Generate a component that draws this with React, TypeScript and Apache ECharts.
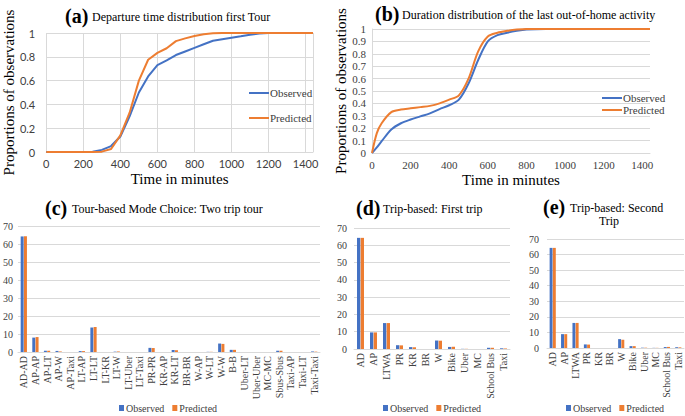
import React, { useEffect, useRef } from 'react';
import * as echarts from 'echarts';

const SERIF = 'Liberation Serif';
const SANS = 'Lato';
const BLUE = '#4472C4';
const ORANGE = '#ED7D31';
const GRID = '#d9d9d9';
const TXT = '#404040';

// (a) Departure time distribution first Tour
const aTimes = [0, 100, 200, 250, 300, 350, 400, 450, 500, 550, 600, 650, 700, 750, 800, 850, 900, 950, 1000, 1050, 1100, 1150, 1200, 1300, 1440];
const aObserved = [0, 0, 0, 0.003, 0.018, 0.05, 0.13, 0.3, 0.5, 0.635, 0.73, 0.77, 0.815, 0.845, 0.875, 0.905, 0.935, 0.948, 0.96, 0.972, 0.985, 0.995, 1, 1, 1];
const aPredicted = [0, 0, 0, 0, 0.003, 0.025, 0.14, 0.33, 0.6, 0.775, 0.833, 0.872, 0.932, 0.955, 0.975, 0.99, 0.997, 1, 1, 1, 1, 1, 1, 1, 1];

// (b) Duration distribution of the last out-of-home activity
const bTimes = [0, 25, 50, 100, 150, 200, 250, 300, 350, 400, 450, 500, 550, 600, 650, 700, 750, 800, 900, 1000, 1200, 1440];
const bObserved = [0, 0.045, 0.095, 0.19, 0.24, 0.27, 0.295, 0.32, 0.354, 0.385, 0.43, 0.56, 0.75, 0.9, 0.95, 0.97, 0.985, 0.995, 1, 1, 1, 1];
const bPredicted = [0, 0.16, 0.24, 0.33, 0.35, 0.36, 0.37, 0.38, 0.4, 0.43, 0.465, 0.6, 0.82, 0.94, 0.97, 0.985, 0.995, 1, 1, 1, 1, 1];

// (c) Tour-based Mode Choice: Two trip tour
const cCategories = ['AD-AD', 'AP-AP', 'AP-LT', 'AP-W', 'AP-Taxi', 'LT-AP', 'LT-LT', 'LT-KR', 'LT-W', 'LT-Uber', 'LT-Taxi', 'PR-PR', 'KR-AP', 'KR-LT', 'BR-BR', 'W-AP', 'W-LT', 'W-W', 'B-B', 'Uber-LT', 'Uber-Uber', 'MC-MC', 'Sbus-Sbus', 'Taxi-AP', 'Taxi-LT', 'Taxi-Taxi'];
const cObserved = [64.2, 8.0, 0.7, 0.6, 0, 0.5, 13.6, 0, 0.2, 0, 0, 2.3, 0, 1.1, 0, 0, 0.1, 4.7, 1.2, 0, 0, 0, 0.7, 0, 0, 0.3];
const cPredicted = [64.3, 8.3, 0.7, 0.3, 0, 0.5, 13.9, 0, 0.3, 0, 0, 2.2, 0, 1.0, 0, 0, 0.1, 4.5, 1.2, 0, 0, 0, 0.7, 0, 0, 0.2];

// (d) Trip-based: First trip
const dCategories = ['AD', 'AP', 'LTWA', 'PR', 'KR', 'BR', 'W', 'Bike', 'Uber', 'MC', 'School Bus', 'Taxi'];
const dObserved = [64.3, 9.6, 15.0, 2.2, 1.1, 0, 4.9, 1.2, 0.1, 0, 0.7, 0.4];
const dPredicted = [64.3, 9.6, 15.0, 2.1, 1.0, 0, 4.8, 1.3, 0.1, 0, 0.7, 0.3];

// (e) Trip-based: Second Trip
const eCategories = ['AD', 'AP', 'LTWA', 'PR', 'KR', 'BR', 'W', 'Bike', 'Uber', 'MC', 'School Bus', 'Taxi'];
const eObserved = [64.3, 8.9, 16.1, 2.3, 0, 0, 5.7, 1.2, 0.2, 0.1, 0.6, 0.5];
const ePredicted = [64.3, 8.9, 16.1, 2.2, 0, 0, 5.3, 1.2, 0.2, 0.1, 0.7, 0.4];

const yTicksLine = { a: 0.2, b: 0.1 };
const yTickBar = 10;

const zip = (xs: number[], ys: number[]) => xs.map((x, i) => [x, ys[i]]);

function lineX(gridIndex: number, font: string, size: number) {
  return {
    type: 'value', gridIndex, min: 0, max: 1440, interval: 200,
    name: 'Time in minutes', nameLocation: 'middle', nameGap: 19,
    nameTextStyle: { fontFamily: SERIF, fontSize: 15, color: '#000' },
    axisLine: { show: true, lineStyle: { color: GRID } },
    axisTick: { show: false },
    splitLine: { show: gridIndex === 0, lineStyle: { color: GRID } },
    axisLabel: {
      fontFamily: font, fontSize: size, color: TXT, margin: 6,
      formatter: (v: number) => (v % 200 === 0 ? String(v) : ''),
    },
  };
}

function lineY(gridIndex: number, interval: number, font: string, size: number, margin: number, gap: number) {
  return {
    type: 'value', gridIndex, min: 0, max: 1, interval,
    name: 'Proportions of observations', nameLocation: 'middle', nameGap: gap,
    nameTextStyle: { fontFamily: SERIF, fontSize: 15, color: '#000' },
    axisLine: { show: gridIndex === 1, lineStyle: { color: GRID } },
    axisTick: { show: false },
    splitLine: { show: true, lineStyle: { color: GRID } },
    axisLabel: {
      fontFamily: font, fontSize: size, color: TXT, margin,
      formatter: (v: number) => String(Math.round(v * 10) / 10),
    },
  };
}

function barX(gridIndex: number, data: string[]) {
  return {
    type: 'category', gridIndex, data,
    axisLine: { show: true, lineStyle: { color: GRID } },
    axisTick: { show: false },
    axisLabel: { interval: 0, rotate: 90, fontFamily: SERIF, fontSize: 10, color: TXT, margin: 4 },
  };
}

function barY(gridIndex: number, margin: number) {
  return {
    type: 'value', gridIndex, min: 0, max: 70, interval: yTickBar,
    axisLine: { show: false }, axisTick: { show: false },
    splitLine: { show: true, lineStyle: { color: GRID } },
    axisLabel: { fontFamily: SERIF, fontSize: 10, color: TXT, margin },
  };
}

function bars(idx: number, obs: number[], pred: number[]) {
  const common = { type: 'bar', xAxisIndex: idx, yAxisIndex: idx, barGap: '10%', barCategoryGap: '46%' };
  return [
    { ...common, name: 'Observed', data: obs, itemStyle: { color: BLUE } },
    { ...common, name: 'Predicted', data: pred, itemStyle: { color: ORANGE } },
  ];
}

function barLegend(left: number) {
  return {
    left, top: 403, padding: 0, orient: 'horizontal', icon: 'rect', itemWidth: 5, itemHeight: 6, itemGap: 8,
    data: ['Observed', 'Predicted'],
    textStyle: { fontFamily: SERIF, fontSize: 10, color: TXT, padding: [0, 0, 0, -3] },
  };
}

function lineLegend(left: number, top: number, gap: number) {
  return {
    left, top, padding: 0, orient: 'vertical', icon: 'rect', itemWidth: 20, itemHeight: 2, itemGap: gap,
    data: ['Observed', 'Predicted'],
    textStyle: { fontFamily: SERIF, fontSize: 11, color: TXT, padding: [0, 0, 0, -4] },
  };
}

function title(x: number, y: number, tag: string, text: string) {
  return [
    { type: 'text', x, y, style: { text: tag, font: `bold 20px ${SERIF}`, fill: '#000', verticalAlign: 'middle' } },
    { type: 'text', x: x + 27, y: y + 1, style: { text, font: `12px ${SERIF}`, fill: '#000', verticalAlign: 'middle' } },
  ];
}

export default function App() {
  const ref = useRef<HTMLDivElement>(null);
  useEffect(() => {
    if (!ref.current) return;
    const chart = echarts.init(ref.current, undefined, { renderer: 'svg' });
    const option: any = {
      animation: false,
      backgroundColor: '#fff',
      grid: [
        { left: 39, top: 33, width: 274, height: 119 },
        { left: 372, top: 29, width: 278, height: 124 },
        { left: 16, top: 226, width: 304, height: 126 },
        { left: 354, top: 228, width: 156, height: 121 },
        { left: 547, top: 239, width: 137, height: 109 },
      ],
      xAxis: [
        lineX(0, SANS, 11),
        lineX(1, SERIF, 11),
        barX(2, cCategories),
        barX(3, dCategories),
        barX(4, eCategories),
      ],
      yAxis: [
        lineY(0, yTicksLine.a, SANS, 11, 11, 20),
        lineY(1, yTicksLine.b, SERIF, 11, 6, 20),
        barY(2, 5),
        barY(3, 7),
        barY(4, 8),
      ],
      legend: [
        lineLegend(249, 87.5, 14),
        lineLegend(602, 92.5, 1),
        barLegend(119),
        barLegend(383),
        barLegend(566),
      ],
      graphic: [
        ...title(65, 15.5, '(a)', 'Departure time distribution first Tour'),
        ...title(375, 13.5, '(b)', 'Duration distribution of the last out-of-home activity'),
        ...title(45, 207.5, '(c)', 'Tour-based Mode Choice: Two trip tour'),
        ...title(356, 207.5, '(d)', 'Trip-based: First trip'),
        ...title(543, 207, '(e)', 'Trip-based: Second'),
        { type: 'text', x: 609, y: 221, style: { text: 'Trip', font: `12px ${SERIF}`, fill: '#000', align: 'center', verticalAlign: 'middle' } },
      ],
      series: [
        { type: 'line', name: 'Observed', xAxisIndex: 0, yAxisIndex: 0, data: zip(aTimes, aObserved), symbol: 'none', lineStyle: { color: BLUE, width: 2 }, itemStyle: { color: BLUE } },
        { type: 'line', name: 'Predicted', xAxisIndex: 0, yAxisIndex: 0, data: zip(aTimes, aPredicted), symbol: 'none', lineStyle: { color: ORANGE, width: 2 }, itemStyle: { color: ORANGE } },
        { type: 'line', name: 'Observed', xAxisIndex: 1, yAxisIndex: 1, data: zip(bTimes, bObserved), symbol: 'none', smooth: 0.3, lineStyle: { color: BLUE, width: 2 }, itemStyle: { color: BLUE } },
        { type: 'line', name: 'Predicted', xAxisIndex: 1, yAxisIndex: 1, data: zip(bTimes, bPredicted), symbol: 'none', smooth: 0.3, lineStyle: { color: ORANGE, width: 2 }, itemStyle: { color: ORANGE } },
        ...bars(2, cObserved, cPredicted),
        ...bars(3, dObserved, dPredicted),
        ...bars(4, eObserved, ePredicted),
      ],
    };
    chart.setOption(option);
    return () => chart.dispose();
  }, []);
  return <div ref={ref} style={{ position: 'fixed', left: 0, top: 0, width: 685, height: 416, background: '#fff' }} />;
}
